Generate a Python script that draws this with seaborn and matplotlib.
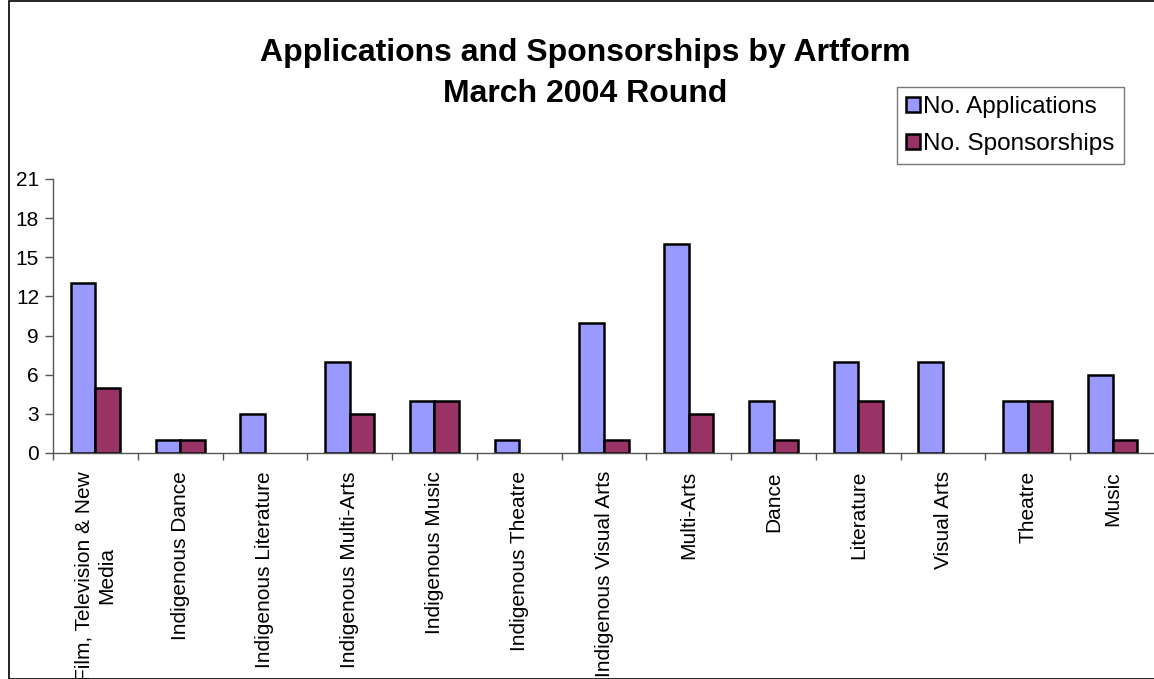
import numpy as np
import pandas as pd
import matplotlib
matplotlib.use("Agg")
import matplotlib.pyplot as plt
import seaborn as sns
from matplotlib.patches import Rectangle

artforms = [
    "Film, Television & New\nMedia", "Indigenous Dance", "Indigenous Literature",
    "Indigenous Multi-Arts", "Indigenous Music", "Indigenous Theatre",
    "Indigenous Visual Arts", "Multi-Arts", "Dance", "Literature",
    "Visual Arts", "Theatre", "Music",
]
applications = [13, 1, 3, 7, 4, 1, 10, 16, 4, 7, 7, 4, 6]
sponsorships = [5, 1, 0, 3, 4, 0, 1, 3, 1, 4, 0, 4, 1]
series = ["No. Applications", "No. Sponsorships"]
colors = ["#9999FF", "#993366"]
y_ticks = [0, 3, 6, 9, 12, 15, 18, 21]

df = pd.DataFrame({
    "artform": artforms * 2,
    "count": applications + sponsorships,
    "series": [series[0]] * len(artforms) + [series[1]] * len(artforms),
})

sns.set_style("white")
plt.rcParams["font.family"] = ["Liberation Sans", "DejaVu Sans"]
plt.rcParams["text.color"] = "black"
plt.rcParams["xtick.color"] = "black"
plt.rcParams["ytick.color"] = "black"

W, H = 1154, 679
fig = plt.figure(figsize=(W / 100, H / 100), dpi=100)
ax = fig.add_axes([53 / W, 1 - 453 / H, (1155 - 53) / W, (453 - 179) / H])

# chart frame (Excel style)
fig.patches.append(Rectangle((9 / W, 0), 1.2, 1 - 1 / H, transform=fig.transFigure,
                             fill=False, edgecolor="black", linewidth=1.2))

sns.barplot(data=df, x="artform", y="count", hue="series", order=artforms,
            hue_order=series, palette=colors, width=0.58, edgecolor="black",
            linewidth=1.8, saturation=1, ax=ax)
# Excel draws nothing for zero-height bars
for container in ax.containers:
    for bar in container:
        if bar.get_height() == 0:
            bar.set_visible(False)

ax.set_xlim(-0.5, len(artforms) - 0.5)
ax.set_ylim(0, 21)
ax.set_yticks(y_ticks)
ax.set_xlabel("")
ax.set_ylabel("")
ax.set_xticks(np.arange(len(artforms)))
ax.set_xticklabels(artforms, rotation=90, ha="center", va="top", fontsize=15,
                   multialignment="center")
ax.set_xticks(np.arange(len(artforms) + 1) - 0.5, minor=True)
ax.tick_params(axis="x", which="major", length=0, pad=13)
ax.tick_params(axis="x", which="minor", length=5, width=1, color="#555555", direction="out")
ax.tick_params(axis="y", length=6, width=1, color="#555555", direction="out", labelsize=15, pad=4)
ax.yaxis.set_ticks_position("left")
ax.xaxis.set_ticks_position("bottom")
for side in ["top", "right"]:
    ax.spines[side].set_visible(False)
for side in ["left", "bottom"]:
    ax.spines[side].set_color("#555555")
    ax.spines[side].set_linewidth(1)

fig.text(585 / W, 1 - 53 / H, "Applications and Sponsorships by Artform",
         ha="center", va="center", fontsize=23, fontweight="bold")
fig.text(585 / W, 1 - 94 / H, "March 2004 Round",
         ha="center", va="center", fontsize=23, fontweight="bold")

leg = ax.legend(loc="upper left", bbox_to_anchor=(897 / W, 1 - 87 / H),
                bbox_transform=fig.transFigure, frameon=True, fancybox=False,
                fontsize=17.5, handlelength=0.55, handleheight=0.55, handletextpad=0.15,
                borderpad=0.38, labelspacing=0.6, borderaxespad=0)
leg.get_frame().set_edgecolor("#555555")
leg.get_frame().set_linewidth(1)
for handle in leg.legend_handles:
    handle.set_edgecolor("black")
    handle.set_linewidth(1.8)

fig.savefig("out.png", dpi=100)
